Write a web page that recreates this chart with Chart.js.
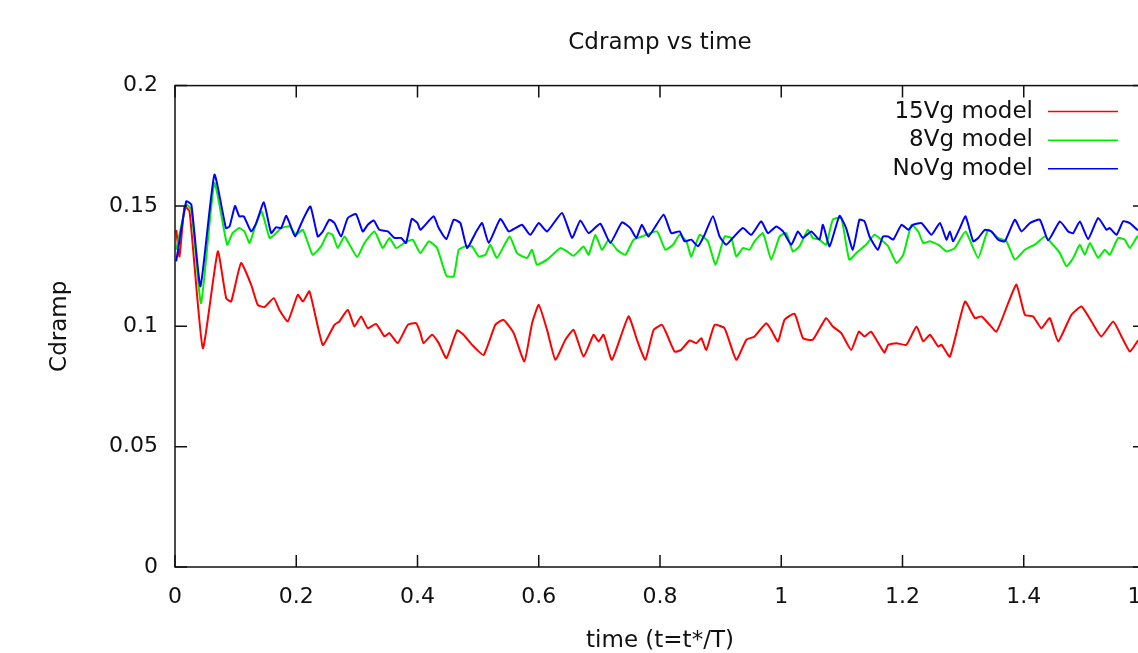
<!DOCTYPE html>
<html>
<head>
<meta charset="utf-8">
<title>Cdramp vs time</title>
<script src="https://cdn.jsdelivr.net/npm/chart.js@4/dist/chart.umd.min.js"></script>
<style>
	html, body { margin: 0; padding: 0; overflow: hidden; background: #fff; }
	#chart-cdramp { display: block; }
</style>
</head>
<body>
<canvas id="chart-cdramp" width="1180" height="653"></canvas>
<script>
// values: time (t=t*/T) and Cdramp per model
var time15 = [0.002, 0.0074, 0.0157, 0.024, 0.0459, 0.0706, 0.0844, 0.0927, 0.109, 0.1256, 0.1365, 0.1476, 0.163, 0.172, 0.186, 0.2025, 0.211, 0.2218, 0.2437, 0.263, 0.271, 0.285, 0.296, 0.307, 0.318, 0.3317, 0.3454, 0.3537, 0.3674, 0.384, 0.3977,
	0.4048, 0.410, 0.424, 0.435, 0.4477, 0.4653, 0.476, 0.490, 0.509, 0.5284, 0.542, 0.5586, 0.5763, 0.589, 0.600, 0.6137, 0.6274, 0.6439, 0.6576, 0.674, 0.6905, 0.6988, 0.707, 0.7208, 0.748, 0.762, 0.7758, 0.7895, 0.8033,
	0.8104, 0.824, 0.835, 0.8488, 0.860, 0.868, 0.8764, 0.890, 0.9065, 0.9258, 0.9423, 0.956, 0.9753, 0.9835, 0.9946, 1.0055, 1.022, 1.0358, 1.052, 1.074, 1.085, 1.099, 1.1154, 1.128, 1.1373, 1.148, 1.170,
	1.1764, 1.19, 1.2064, 1.2231, 1.2342, 1.2452, 1.259, 1.2644, 1.2782, 1.303, 1.3193, 1.3302, 1.3413, 1.355, 1.3743, 1.388, 1.4018, 1.4155, 1.429, 1.443, 1.4567, 1.4787, 1.4952, 1.5117, 1.528, 1.5475, 1.5612, 1.575, 1.5874, 1.598];
var cd15 = [0.1401, 0.129, 0.1498, 0.1477, 0.0909, 0.1311, 0.1117, 0.1103, 0.1263, 0.1173, 0.1089, 0.108, 0.1117, 0.1069, 0.102, 0.1131, 0.1103, 0.1145, 0.0923, 0.1006, 0.102, 0.1069, 0.0999, 0.1041, 0.0992, 0.101, 0.0958, 0.0972, 0.093, 0.1006, 0.1013,
	0.0972, 0.093, 0.0965, 0.093, 0.0868, 0.0983, 0.0965, 0.0923, 0.0881, 0.1006, 0.1027, 0.0972, 0.0854, 0.1013, 0.1089, 0.0985, 0.0861, 0.0944, 0.0985, 0.0874, 0.0965, 0.0937, 0.0965, 0.0861, 0.1041, 0.0944, 0.0861, 0.0985, 0.1006,
	0.0972, 0.0895, 0.0902, 0.0941, 0.093, 0.0951, 0.0902, 0.1006, 0.0992, 0.0861, 0.0944, 0.0958, 0.1013, 0.0985, 0.0937, 0.1027, 0.1052, 0.0951, 0.0944, 0.1034, 0.0999, 0.0972, 0.0902, 0.0978, 0.0958, 0.0978, 0.0891,
	0.0923, 0.093, 0.0923, 0.0999, 0.0937, 0.0965, 0.0916, 0.0923, 0.0874, 0.1103, 0.1034, 0.1041, 0.1013, 0.0978, 0.1096, 0.1173, 0.1048, 0.1041, 0.0992, 0.1034, 0.0937, 0.1048, 0.1082, 0.102, 0.0958, 0.102, 0.0958, 0.0895, 0.0937, 0.096];

var time8 = [0.002, 0.0185, 0.027, 0.043, 0.065, 0.086, 0.095, 0.106, 0.1146, 0.123, 0.134, 0.143, 0.156, 0.164, 0.175, 0.189, 0.1998, 0.211, 0.227, 0.241, 0.252, 0.260, 0.2685, 0.2795, 0.3004, 0.3125, 0.329, 0.3427, 0.3537, 0.3647, 0.378, 0.392,
	0.4048, 0.4185, 0.4323, 0.4477, 0.4597, 0.468, 0.479, 0.490, 0.501, 0.512, 0.520, 0.531, 0.552, 0.5642, 0.5807, 0.589, 0.597, 0.6137, 0.6356, 0.6466, 0.6576, 0.674, 0.6823, 0.6933, 0.7044, 0.7153, 0.729, 0.7428, 0.7565, 0.770, 0.795, 0.8088,
	0.8214, 0.8323, 0.8434, 0.8516, 0.8654, 0.879, 0.8917, 0.9065, 0.9176, 0.9258, 0.9368, 0.9477, 0.956, 0.9698, 0.9835, 0.9972, 1.0082, 1.0192, 1.030, 1.044, 1.052, 1.063, 1.074, 1.085, 1.099, 1.1122, 1.1265, 1.140, 1.1538, 1.1677,
	1.1764, 1.19, 1.2012, 1.2149, 1.2259, 1.2342, 1.2452, 1.259, 1.2726, 1.2864, 1.304, 1.3248, 1.3413, 1.3578, 1.3715, 1.3853, 1.4018, 1.4183, 1.4348, 1.4457, 1.4596, 1.4705, 1.4815, 1.4925, 1.5007, 1.509, 1.5227, 1.5337, 1.542, 1.5557, 1.5667, 1.575, 1.5874, 1.598];
var cd8 = [0.1318, 0.1505, 0.1484, 0.1096, 0.1595, 0.1339, 0.1387, 0.1408, 0.1394, 0.1346, 0.1429, 0.1477, 0.1367, 0.138, 0.1408, 0.1415, 0.138, 0.1401, 0.1297, 0.1332, 0.1387, 0.138, 0.1325, 0.1373, 0.1288, 0.1346, 0.1394, 0.1325, 0.1367, 0.1325, 0.1346, 0.136,
	0.1304, 0.1353, 0.1325, 0.121, 0.1207, 0.1318, 0.1332, 0.1332, 0.129, 0.1297, 0.1339, 0.1284, 0.1373, 0.1304, 0.1284, 0.1318, 0.1256, 0.1277, 0.1325, 0.1311, 0.1293, 0.1332, 0.1297, 0.138, 0.1318, 0.136, 0.1318, 0.1297, 0.136, 0.1373, 0.1394, 0.1318,
	0.1339, 0.138, 0.1353, 0.129, 0.138, 0.1353, 0.1256, 0.1373, 0.1367, 0.129, 0.1325, 0.1318, 0.1353, 0.1387, 0.1277, 0.1373, 0.1387, 0.1311, 0.1332, 0.1401, 0.1367, 0.136, 0.1339, 0.1443, 0.145, 0.1277, 0.1311, 0.1339, 0.138, 0.1353,
	0.1332, 0.1263, 0.1297, 0.1422, 0.1394, 0.1346, 0.1353, 0.1339, 0.1311, 0.1325, 0.1394, 0.1284, 0.1401, 0.1367, 0.1353, 0.1277, 0.1318, 0.1339, 0.1373, 0.1346, 0.1304, 0.1249, 0.1284, 0.1339, 0.1297, 0.1346, 0.1284, 0.1318, 0.1297, 0.1367, 0.136, 0.1325, 0.1373, 0.1385];

var timeNo = [0.002, 0.0185, 0.027, 0.042, 0.065, 0.084, 0.090, 0.099, 0.106, 0.1135, 0.1256, 0.134, 0.1465, 0.1586, 0.1669, 0.175, 0.1833, 0.189, 0.198, 0.211, 0.2234, 0.2355, 0.2437, 0.2547, 0.263, 0.274, 0.285, 0.2987, 0.3097, 0.318, 0.3278, 0.337, 0.351, 0.362, 0.373, 0.381, 0.3905, 0.400,
	0.4048, 0.4267, 0.435, 0.4477, 0.4597, 0.4707, 0.4818, 0.4955, 0.5065, 0.5174, 0.5367, 0.5504, 0.5614, 0.5724, 0.586, 0.600, 0.6137, 0.6384, 0.655, 0.6686, 0.6823, 0.7016, 0.718, 0.7373, 0.751, 0.761, 0.770, 0.781, 0.806,
	0.8186, 0.8323, 0.8406, 0.8516, 0.8627, 0.8735, 0.8874, 0.8983, 0.9093, 0.920, 0.9368, 0.9505, 0.967, 0.978, 0.9918, 1.003, 1.0165, 1.0275, 1.0358, 1.0495, 1.063, 1.0688, 1.0797, 1.0961, 1.107, 1.118, 1.129, 1.1373, 1.1456, 1.1594, 1.1677,
	1.1764, 1.1847, 1.1984, 1.2094, 1.2177, 1.2314, 1.2478, 1.2617, 1.2726, 1.2782, 1.2836, 1.2946, 1.304, 1.3166, 1.3248, 1.3359, 1.3468, 1.3578, 1.3689, 1.3853, 1.3962, 1.4101, 1.4266, 1.4403, 1.4596, 1.4733, 1.4815, 1.4925, 1.5062, 1.5227, 1.5364, 1.542, 1.553, 1.564, 1.575, 1.5874, 1.598];
var cdNo = [0.127, 0.1519, 0.1505, 0.1166, 0.163, 0.1408, 0.1415, 0.150, 0.1457, 0.1457, 0.1394, 0.1429, 0.1515, 0.1387, 0.1412, 0.1408, 0.1459, 0.1429, 0.1373, 0.1443, 0.1498, 0.1373, 0.1394, 0.1443, 0.1429, 0.1373, 0.145, 0.1466, 0.1394, 0.1422, 0.144, 0.1401, 0.1394, 0.1367, 0.1367, 0.1346, 0.1446, 0.1429,
	0.1401, 0.1457, 0.1408, 0.1362, 0.1443, 0.1429, 0.1325, 0.1387, 0.1429, 0.1346, 0.1446, 0.1394, 0.1408, 0.1422, 0.138, 0.1429, 0.1394, 0.1471, 0.1367, 0.144, 0.1387, 0.1426, 0.1346, 0.1432, 0.1408, 0.1367, 0.1422, 0.1373, 0.1464,
	0.1387, 0.1394, 0.1353, 0.136, 0.1332, 0.138, 0.1457, 0.1373, 0.1339, 0.1367, 0.1408, 0.138, 0.1436, 0.1387, 0.1415, 0.1394, 0.1339, 0.1394, 0.1367, 0.1394, 0.136, 0.1422, 0.1332, 0.1459, 0.1408, 0.1318, 0.1443, 0.1436, 0.1373, 0.1318, 0.1373,
	0.1373, 0.136, 0.1422, 0.1401, 0.1422, 0.1429, 0.138, 0.1429, 0.136, 0.1394, 0.1353, 0.1408, 0.1457, 0.1353, 0.1367, 0.1401, 0.1394, 0.136, 0.1353, 0.1443, 0.1394, 0.1429, 0.1443, 0.1357, 0.1436, 0.1394, 0.1387, 0.1436, 0.1362, 0.145, 0.1401, 0.1408, 0.138, 0.1436, 0.1429, 0.1401, 0.139];

var seriesNames = ["15Vg model", "8Vg model", "NoVg model"];
var seriesColors = ["#ff0000", "#00ee00", "#0000ff"];
var xTickStep = 0.2;
var yTickStep = 0.05;

var FONT = "'DejaVu Sans', sans-serif";
var INK = "#111111";

function pairs(xs, ys) {
	return xs.map(function (x, i) { return {x: x, y: ys[i]}; });
}

function fmt(v) {
	return String(parseFloat(v.toFixed(2)));
}

// gnuplot style frame: full box, ticks pointing inward on all four sides
var gnuplotFrame = {
	id: 'gnuplotFrame',
	afterDraw: function (chart) {
		var c = chart.ctx;
		var a = chart.chartArea;
		var sx = chart.scales.x, sy = chart.scales.y;
		var tl = 12;
		c.save();
		c.strokeStyle = INK;
		c.lineWidth = 1.5;
		c.strokeRect(a.left, a.top, a.right - a.left, a.bottom - a.top);
		c.beginPath();
		sx.ticks.forEach(function (t) {
			var px = sx.getPixelForValue(t.value);
			c.moveTo(px, a.bottom); c.lineTo(px, a.bottom - tl);
			c.moveTo(px, a.top); c.lineTo(px, a.top + tl);
		});
		sy.ticks.forEach(function (t) {
			var py = sy.getPixelForValue(t.value);
			c.moveTo(a.left, py); c.lineTo(a.left + tl, py);
			c.moveTo(a.right, py); c.lineTo(a.right - tl, py);
		});
		c.stroke();

		// key in the top right corner, text right aligned with the sample line after it
		c.font = "23px " + FONT;
		c.textAlign = 'right';
		c.textBaseline = 'middle';
		chart.data.datasets.forEach(function (ds, i) {
			var y = a.top + 26 + i * 28.6;
			c.fillStyle = INK;
			c.fillText(ds.label, a.right - 112, y);
			c.strokeStyle = ds.borderColor;
			c.lineWidth = 1.5;
			c.beginPath();
			c.moveTo(a.right - 97, y);
			c.lineTo(a.right - 27, y);
			c.stroke();
		});
		c.restore();
	}
};

function summary_render() {
	var ctx = document.getElementById('chart-cdramp').getContext('2d');
	var sets = [pairs(time15, cd15), pairs(time8, cd8), pairs(timeNo, cdNo)];

	new Chart(ctx, {
		type: 'line',
		data: {
			datasets: sets.map(function (d, i) {
				return {
					label: seriesNames[i],
					data: d,
					borderColor: seriesColors[i],
					borderWidth: 2,
					pointRadius: 0,
					fill: false,
					tension: 0.15,
					order: 2 - i
				};
			})
		},
		options: {
			responsive: false,
			animation: false,
			events: [],
			layout: {padding: {left: 0, right: 35, top: 0, bottom: 0}},
			plugins: {
				legend: {display: false},
				tooltip: {enabled: false},
				title: {
					display: true,
					fullSize: false,
					text: 'Cdramp vs time',
					color: INK,
					font: {family: FONT, size: 23, weight: 'normal', lineHeight: 1.2},
					padding: {top: 29, bottom: 29}
				}
			},
			scales: {
				x: {
					type: 'linear',
					min: 0,
					max: 1.6,
					grid: {display: false, drawTicks: false},
					border: {display: false},
					ticks: {
						stepSize: xTickStep,
						color: INK,
						padding: 17,
						maxRotation: 0,
						font: {family: FONT, size: 22, lineHeight: 1.2},
						callback: fmt
					},
					title: {
						display: true,
						text: 'time (t=t*/T)',
						color: INK,
						font: {family: FONT, size: 23, lineHeight: 1.05},
						padding: {top: 0, bottom: 0}
					},
					afterFit: function (s) { s.height = 86; }
				},
				y: {
					min: 0,
					max: 0.2,
					grid: {display: false, drawTicks: false},
					border: {display: false},
					ticks: {
						stepSize: yTickStep,
						color: INK,
						padding: 17,
						font: {family: FONT, size: 22, lineHeight: 1.2},
						callback: fmt
					},
					title: {
						display: true,
						text: 'Cdramp',
						color: INK,
						font: {family: FONT, size: 23, lineHeight: 1.2},
						padding: {top: 46, bottom: 0}
					},
					afterFit: function (s) { s.width = 175; }
				}
			}
		},
		plugins: [gnuplotFrame]
	});
}

summary_render();
</script>
</body>
</html>
